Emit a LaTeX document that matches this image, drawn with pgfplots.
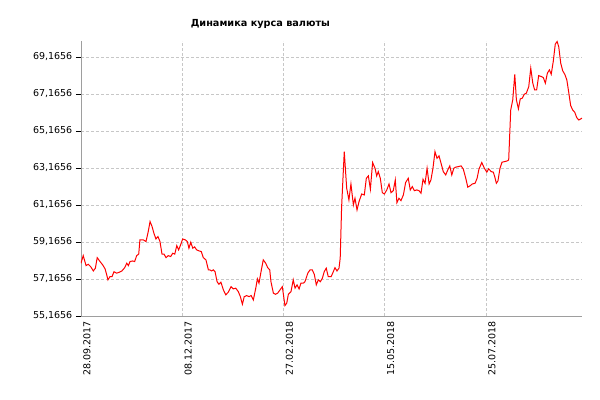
\documentclass[border=0pt]{standalone}
\usepackage{fontspec}
\setmainfont{DejaVu Sans}
\usepackage{pgfplots}
\usepackage{pgfplotstable}
\pgfplotsset{compat=1.18}
\pgfplotstableread{
i v
0 58.02
1.1 58.43
2.5 57.89
3.6 57.96
4.8 57.83
6.1 57.60
7.1 57.75
8.0 58.32
9.4 58.11
10.7 57.93
11.9 57.71
12.7 57.39
13.3 57.12
14.3 57.29
15.3 57.29
16.3 57.56
17.6 57.48
18.9 57.53
20.2 57.60
21.6 57.78
22.6 58.02
23.4 57.89
24.2 58.11
25.5 58.14
26.5 58.11
27.5 58.43
28.5 58.51
29.1 59.28
30.8 59.28
32.1 59.19
33.2 59.73
34.1 60.27
35.1 60.00
36.0 59.64
37.0 59.33
38.0 59.46
39.0 59.19
40.0 58.51
41.0 58.51
42.0 58.32
43.1 58.43
44.3 58.38
45.3 58.56
46.3 58.51
47.3 58.97
48.2 58.74
49.2 59.01
50.2 59.33
51.5 59.28
52.5 59.19
53.3 58.83
54.2 59.15
55.2 58.83
56.1 58.90
57.1 58.74
58.4 58.68
59.4 58.65
60.4 58.32
61.7 58.20
62.9 57.66
63.6 57.66
64.5 57.60
65.3 57.66
66.2 57.56
67.2 57.02
68.1 56.88
69.1 56.99
70.3 56.58
71.5 56.31
72.7 56.45
74.1 56.75
75.2 56.63
76.4 56.67
77.7 56.48
78.7 56.21
79.7 55.80
80.6 56.21
81.8 56.27
83.0 56.21
84.0 56.27
85.1 56.03
86.3 56.67
87.1 57.17
87.9 56.94
88.9 57.56
90.0 58.20
91.2 58.02
92.2 57.78
93.2 57.66
93.8 57.02
95.0 56.40
96.1 56.34
97.1 56.40
98.3 56.58
99.4 56.75
100.1 56.21
100.7 55.73
101.6 55.86
102.4 56.34
103.7 56.48
104.8 57.12
105.7 56.67
106.7 56.85
107.7 56.63
108.6 56.94
109.8 56.94
110.6 57.02
112.0 57.48
113.1 57.66
114.2 57.66
115.2 57.42
116.2 56.85
117.2 57.12
118.2 57.02
119.2 57.21
120.1 57.56
121.1 57.75
122.1 57.29
123.5 57.29
124.6 57.56
125.4 57.78
126.4 57.60
127.4 57.75
128.0 58.29
128.7 61.08
130.0 64.05
131.2 62.07
132.3 61.44
133.3 62.30
134.5 61.17
135.3 61.53
136.3 60.90
137.3 61.35
138.6 61.76
139.9 61.71
140.9 62.61
141.9 62.74
142.9 62.02
144.0 63.46
145.2 63.15
146.0 62.74
146.8 62.97
147.8 62.61
148.8 61.83
149.8 61.76
151.0 61.98
152.1 62.30
153.1 61.83
154.2 61.94
155.2 62.52
156.0 61.29
157.0 61.53
158.0 61.40
159.2 61.71
160.3 62.38
161.6 62.61
162.6 61.98
163.6 62.16
164.6 61.94
165.8 61.98
166.9 61.94
167.9 61.80
168.9 62.56
169.9 62.34
170.9 63.15
171.9 62.30
172.8 62.52
173.8 63.15
174.8 64.05
175.8 63.69
176.8 63.82
177.8 63.42
178.9 62.97
180.1 62.79
181.1 63.06
182.1 63.28
183.1 62.79
184.1 63.15
185.0 63.21
186.3 63.24
187.7 63.28
188.8 63.10
190.0 62.61
191.0 62.13
192.1 62.20
193.2 62.30
194.6 62.34
195.6 62.61
196.5 63.10
197.9 63.46
199.2 63.15
200.4 62.94
201.3 63.12
202.6 62.97
203.6 62.94
204.3 62.70
205.1 62.34
205.9 62.47
206.9 63.15
207.9 63.48
209.2 63.51
210.5 63.55
211.2 63.60
212.2 66.30
213.2 66.85
214.2 68.23
215.0 66.85
216.0 66.36
216.9 66.90
217.9 66.94
218.9 67.15
219.9 67.21
221.1 67.56
222.1 68.56
223.1 67.75
224.0 67.39
225.0 67.39
226.0 68.16
227.3 68.11
228.3 68.05
229.3 67.75
230.3 68.29
231.3 68.47
232.2 68.23
233.2 68.92
234.2 69.86
235.1 70.00
235.9 69.73
236.9 68.83
237.9 68.41
238.9 68.23
239.9 67.93
240.8 67.29
241.8 66.54
242.8 66.30
243.8 66.18
244.8 65.89
245.8 65.76
246.8 65.82
247.4 65.86
}\rates
\begin{document}
\begin{tikzpicture}
\useasboundingbox (-81bp,-84bp) rectangle (519bp,316bp);
\begin{axis}[
  at={(0,0)}, anchor=south west,
  scale only axis,
  width=501bp, height=275bp,
  xmin=0, xmax=247.4,
  ymin=55.1656, ymax=70.03,
  enlarge x limits=false, enlarge y limits=false,
  axis lines*=left,
  axis line style={-, draw=black!38, line width=0.8bp},
  xtick={0,50,100,150,200},
  xticklabels={28.09.2017,08.12.2017,27.02.2018,15.05.2018,25.07.2018},
  ytick={55.1656,57.1656,59.1656,61.1656,63.1656,65.1656,67.1656,69.1656},
  yticklabels={{55,1656},{57,1656},{59,1656},{61,1656},{63,1656},{65,1656},{67,1656},{69,1656}},
  xticklabel style={rotate=90, anchor=east, font=\fontsize{9.5bp}{11bp}\selectfont, inner sep=0pt, yshift=-6bp},
  yticklabel style={font=\fontsize{9.5bp}{11bp}\selectfont, inner sep=0pt, xshift=-3.5bp},
  tick align=outside,
  major tick length=5bp,
  xtick style={draw=none},
  ytick style={draw=black, line width=0.8bp},
  grid=major,
  major grid style={draw=black!22, line width=0.8bp, dash pattern=on 3bp off 2bp},
  title={Динамика курса валюты},
  title style={at={(rel axis cs:0.358,1.030)}, anchor=base, inner sep=0pt, yshift=0pt, xshift=0pt, font=\fontsize{9.7bp}{12bp}\selectfont\bfseries},
]
\addplot[draw=red, line width=1bp, no markers] table[x=i, y=v] {\rates};
\end{axis}
\end{tikzpicture}
\end{document}
